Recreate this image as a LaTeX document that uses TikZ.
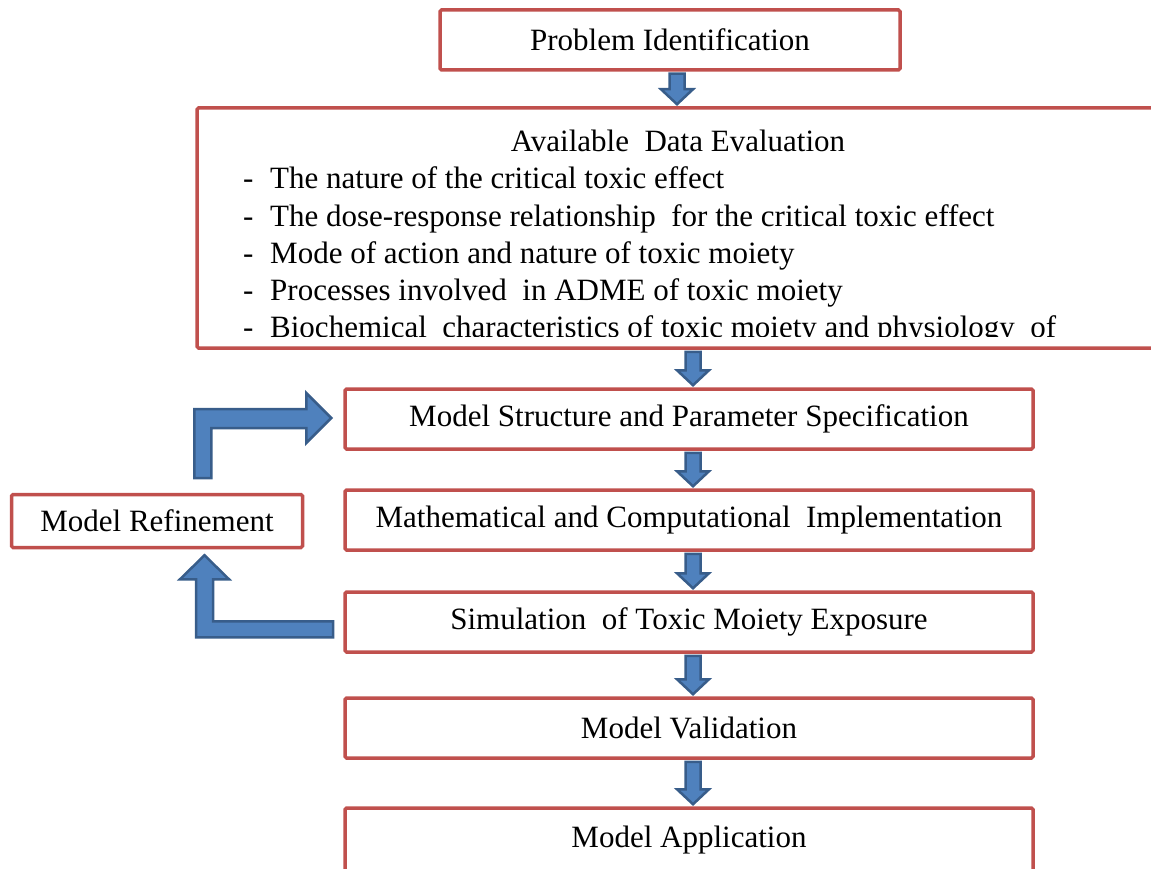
\documentclass[tikz,border=0pt]{standalone}
\usepackage{fontspec}
\setmainfont{Liberation Serif}
\usetikzlibrary{calc}
\definecolor{boxred}{RGB}{192,80,77}
\definecolor{arrowblue}{RGB}{79,129,189}
\definecolor{arrowedge}{RGB}{56,93,138}
\newcommand{\downblock}[3][4]{%
	\draw[blockarrow] let \p1=(#2.south), \p2=($(#3.north)+(#1,0)$) in
	(\x2-7.5pt,\y1-2pt) -- (\x2+7.5pt,\y1-2pt) -- (\x2+7.5pt,\y2+17pt) -- (\x2+16pt,\y2+17pt)
	-- (\x2,\y2+2pt) -- (\x2-16pt,\y2+17pt) -- (\x2-7.5pt,\y2+17pt) -- cycle;}
\begin{document}
\begin{tikzpicture}
		[x=1pt,y=-1pt,
		stepbox/.style={draw=boxred,line width=3.5pt,rounded corners=1.5pt,fill=white,minimum width=688pt,minimum height=60pt,inner sep=0pt,font=\fontsize{31}{36}\selectfont},
		txt/.style={inner sep=0pt,font=\fontsize{31}{36}\selectfont},
		blockarrow/.style={fill=arrowblue,draw=arrowedge,line width=2.5pt,line join=miter}]
		\useasboundingbox (0,0) rectangle (1151,869);
		\node[stepbox,minimum width=460pt,name=ident] at (670,40) {Problem Identification};
		\node[stepbox,minimum width=968pt,minimum height=240pt,name=data] at (681,228) {};
		\node[txt,name=datatitle] at (678,141) {Available\ \ Data Evaluation};
		\begin{scope}
			\clip (200,110) rectangle (1150,336);
			\foreach \y/\t [count=\i] in {178/The nature of the critical toxic effect,
				215/The dose-response relationship\ \ for the critical toxic effect,
				252/Mode of action and nature of toxic moiety,
				289/Processes involved\ \ in ADME of toxic moiety,
				326/Biochemical\ \ characteristics of toxic moiety and physiology\ \ of}
			{
				\node[txt,anchor=base west,name=dash\i] at (243,\y+11) {-};
				\node[txt,anchor=base west,name=item\i] at (270,\y+11) {\t};
			}
		\end{scope}
		\node[stepbox,name=struct] at (689,419) {Model Structure and Parameter Specification};
		\node[stepbox,name=impl] at (689,520) {Mathematical and Computational\ \ Implementation};
		\node[stepbox,name=sim] at (689,622) {Simulation\ \ of Toxic Moiety Exposure};
		\node[stepbox,name=valid] at (689,728) {Model Validation};
		\node[stepbox,minimum height=64pt,name=appl] at (689,840) {Model Application};
		\node[stepbox,minimum width=291pt,minimum height=53pt,name=refine] at (157,521) {Model Refinement};
		% flow arrows
		\downblock[-4]{ident}{data}
		\foreach \a/\b in {data/struct,struct/impl,impl/sim,sim/valid,valid/appl}
		{
			\downblock{\a}{\b}
		}
		% refinement loop
		\coordinate (uptip) at ($(struct.west)+(-12,-1)$);
		\coordinate (lowtip) at ($(refine.south)+(47.5,6)$);
		\draw[blockarrow] (uptip) -- ++(-25,-25) -- ++(0,16) -- ++(-112,0) -- ++(0,69)
			-- ++(17,0) -- ++(0,-50) -- ++(95,0) -- ++(0,15) -- cycle;
		\draw[blockarrow] (lowtip) -- ++(24.5,24) -- ++(-16,0) -- ++(0,42) -- ++(120,0)
			-- ++(0,16) -- ++(-137,0) -- ++(0,-58) -- ++(-16,0) -- cycle;
	\end{tikzpicture}
\end{document}
